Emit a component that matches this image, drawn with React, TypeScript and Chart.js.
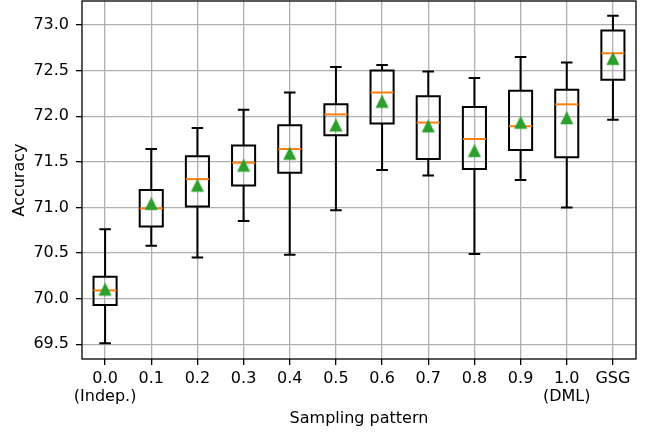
import React, { useEffect, useRef } from "react";
import { Chart, registerables } from "chart.js";

Chart.register(...registerables);

// ---- data ----
const categories: (string | string[])[] = [
  ["0.0", "(Indep.)"], "0.1", "0.2", "0.3", "0.4", "0.5", "0.6", "0.7", "0.8", "0.9", ["1.0", "(DML)"], "GSG",
];
const whiskerLow = [69.51, 70.58, 70.45, 70.85, 70.48, 70.97, 71.41, 71.35, 70.49, 71.30, 71.00, 71.96];
const q1 = [69.93, 70.79, 71.01, 71.24, 71.38, 71.79, 71.92, 71.53, 71.42, 71.63, 71.55, 72.40];
const medians = [70.09, 70.99, 71.31, 71.49, 71.64, 72.02, 72.26, 71.93, 71.75, 71.89, 72.13, 72.69];
const q3 = [70.24, 71.19, 71.56, 71.68, 71.90, 72.13, 72.50, 72.22, 72.10, 72.28, 72.29, 72.94];
const whiskerHigh = [70.76, 71.64, 71.87, 72.07, 72.26, 72.54, 72.56, 72.49, 72.42, 72.65, 72.59, 73.10];
const means = [70.10, 71.04, 71.24, 71.46, 71.59, 71.90, 72.16, 71.89, 71.62, 71.93, 71.98, 72.63];
const yTickValues = [69.5, 70.0, 70.5, 71.0, 71.5, 72.0, 72.5, 73.0];

const FONT = "'DejaVu Sans', sans-serif";

function makeTriangle(): HTMLCanvasElement {
  const c = document.createElement("canvas");
  c.width = 16;
  c.height = 16;
  const g = c.getContext("2d")!;
  g.fillStyle = "#2ca02c";
  g.strokeStyle = "#2ca02c";
  g.lineWidth = 1.2;
  g.lineJoin = "miter";
  g.beginPath();
  g.moveTo(8, 2.4);
  g.lineTo(2.4, 13.6);
  g.lineTo(13.6, 13.6);
  g.closePath();
  g.fill();
  g.stroke();
  return c;
}

const boxPlugin = {
  id: "boxes",
  beforeDatasetsDraw(chart: any) {
    const ctx = chart.ctx;
    const xs = chart.scales.x;
    const ys = chart.scales.y;
    ctx.save();
    for (let i = 0; i < categories.length; i++) {
      const x = xs.getPixelForValue(i);
      const hw = xs.getPixelForValue(i + 0.25) - x;
      const cw = xs.getPixelForValue(i + 0.125) - x;
      const yl = ys.getPixelForValue(whiskerLow[i]);
      const y1 = ys.getPixelForValue(q1[i]);
      const ym = ys.getPixelForValue(medians[i]);
      const y3 = ys.getPixelForValue(q3[i]);
      const yh = ys.getPixelForValue(whiskerHigh[i]);
      ctx.strokeStyle = "#000";
      ctx.lineWidth = 2;
      ctx.lineCap = "butt";
      ctx.beginPath();
      ctx.rect(x - hw, y3, 2 * hw, y1 - y3);
      ctx.moveTo(x, y3);
      ctx.lineTo(x, yh);
      ctx.moveTo(x, y1);
      ctx.lineTo(x, yl);
      ctx.moveTo(x - cw, yh);
      ctx.lineTo(x + cw, yh);
      ctx.moveTo(x - cw, yl);
      ctx.lineTo(x + cw, yl);
      ctx.stroke();
      ctx.strokeStyle = "#ff7f0e";
      ctx.lineWidth = 2;
      ctx.beginPath();
      ctx.moveTo(x - hw, ym);
      ctx.lineTo(x + hw, ym);
      ctx.stroke();
    }
    ctx.restore();
  },
  afterDraw(chart: any) {
    const { ctx, chartArea } = chart;
    ctx.save();
    ctx.strokeStyle = "#000";
    ctx.lineWidth = 1.3;
    ctx.strokeRect(chartArea.left, chartArea.top, chartArea.right - chartArea.left, chartArea.bottom - chartArea.top);
    ctx.restore();
  },
};

export default function App() {
  const ref = useRef<HTMLCanvasElement | null>(null);
  useEffect(() => {
    if (!ref.current) return;
    const tri = makeTriangle();
    const chart = new Chart(ref.current, {
      type: "scatter",
      data: {
        datasets: [
          {
            label: "mean",
            data: means.map((m, i) => ({ x: i, y: m })),
            pointStyle: tri as any,
            pointRadius: 7,
            backgroundColor: "#2ca02c",
            borderColor: "#2ca02c",
          },
        ],
      },
      options: {
        animation: false,
        responsive: false,
        layout: { autoPadding: false, padding: { top: 1, right: 16, bottom: 0, left: 0 } },
        plugins: { legend: { display: false }, tooltip: { enabled: false } },
        scales: {
          x: {
            type: "linear",
            min: -0.5,
            max: 11.5,
            afterBuildTicks: (scale: any) => {
              scale.ticks = categories.map((_, i) => ({ value: i }));
            },
            afterFit: (scale: any) => {
              scale.height = 73;
              scale.paddingLeft = 0;
              scale.paddingRight = 0;
            },
            ticks: {
              autoSkip: false,
              maxRotation: 0,
              minRotation: 0,
              padding: 5,
              color: "#000",
              font: { family: FONT, size: 16, lineHeight: 1.1 },
              callback: (_v: any, i: number) => categories[i],
            },
            grid: { color: "#b0b0b0", lineWidth: 1.3, tickLength: 6, tickColor: "#000", tickWidth: 1.3 },
            border: { display: false },
            title: {
              display: true,
              text: "Sampling pattern",
              color: "#000",
              font: { family: FONT, size: 16 },
              padding: { top: 0, bottom: 3.4 },
            },
          },
          y: {
            type: "linear",
            min: 69.338,
            max: 73.263,
            afterBuildTicks: (scale: any) => {
              scale.ticks = yTickValues.map((v) => ({ value: v }));
            },
            afterFit: (scale: any) => {
              scale.width = 82;
              scale.paddingTop = 0;
              scale.paddingBottom = 0;
            },
            ticks: {
              padding: 7,
              color: "#000",
              font: { family: FONT, size: 16 },
              callback: (v: any) => Number(v).toFixed(1),
            },
            grid: { color: "#b0b0b0", lineWidth: 1.3, tickLength: 6, tickColor: "#000", tickWidth: 1.3 },
            border: { display: false },
            title: {
              display: true,
              text: "Accuracy",
              color: "#000",
              font: { family: FONT, size: 16 },
              padding: { top: 10, bottom: 0 },
            },
          },
        },
      },
      plugins: [boxPlugin],
    });
    return () => chart.destroy();
  }, []);
  return (
    <div style={{ position: "fixed", left: 0, top: 0, width: 652, height: 432, background: "#fff" }}>
      <canvas ref={ref} width={652} height={432} style={{ display: "block" }} />
    </div>
  );
}
